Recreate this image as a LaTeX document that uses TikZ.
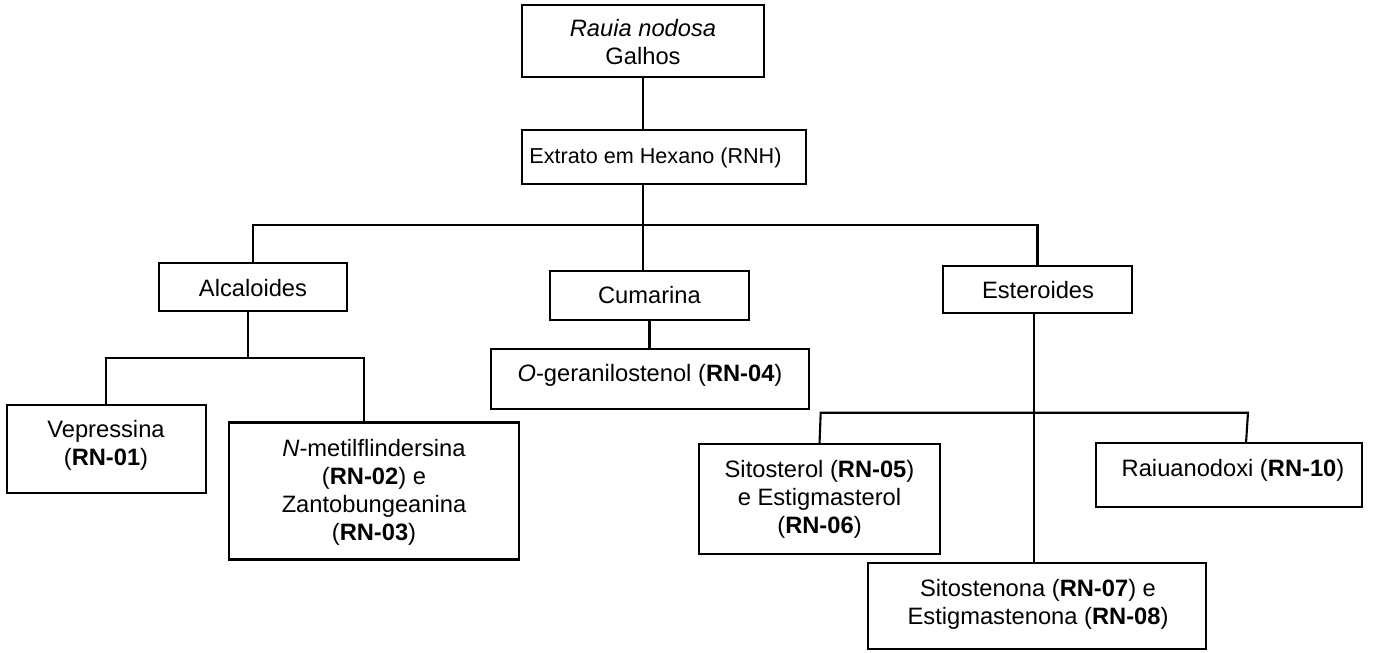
\documentclass[tikz,border=0pt]{standalone}
\usepackage{fontspec}
\setmainfont{Liberation Sans}
\usetikzlibrary{calc}
% centred stack of lines, baseline on the first line
\newcommand\mlines[1]{\begin{tabular}[t]{@{}c@{}}#1\end{tabular}}
\begin{document}
\begin{tikzpicture}[x=1pt,y=-1pt,
  box/.style={draw, rectangle, line width=2.1pt, inner sep=0pt, outer sep=0pt},
  txt/.style={inner sep=0pt, anchor=base, font=\fontsize{23.7}{28}\selectfont},
  link/.style={line width=2.1pt}]
\useasboundingbox (0,0) rectangle (1379,653);

% boxes
\node[box, minimum width=242, minimum height=72]  (top) at (643,41) {};
\node[box, minimum width=284, minimum height=54]  (ext) at (664,157) {};
\node[box, minimum width=188, minimum height=48]  (alc) at (253,287) {};
\node[box, minimum width=199, minimum height=49]  (cum) at (649.5,295.5) {};
\node[box, minimum width=189, minimum height=47]  (est) at (1037.5,289.5) {};
\node[box, minimum width=199, minimum height=88]  (vep) at (106.3,449) {};
\node[box, minimum width=290, minimum height=137] (nme) at (374,491) {};
\node[box, minimum width=318, minimum height=60]  (oge) at (650,379.3) {};
\node[box, minimum width=241, minimum height=110] (sit) at (819.5,499) {};
\node[box, minimum width=338, minimum height=86]  (sno) at (1037,606) {};
\node[box, minimum width=266, minimum height=63.4] (rau) at (1229,475) {};

% texts
\node[txt] (top-t) at (643,36) {\mlines{\textit{Rauia nodosa}\\Galhos}};
\node[txt, font=\fontsize{21.6}{26}\selectfont] (ext-t) at (655.5,163) {Extrato em Hexano (RNH)};
\node[txt] (alc-t) at (253,296) {Alcaloides};
\node[txt] (cum-t) at (649.5,303) {Cumarina};
\node[txt] (est-t) at (1038,298) {Esteroides};
\node[txt] (vep-t) at (106,437) {\mlines{Vepressina\\(\textbf{RN-01})}};
\node[txt] (nme-t) at (374,456) {\mlines{\textit{N}-metilflindersina\\(\textbf{RN-02}) e\\Zantobungeanina\\(\textbf{RN-03})}};
\node[txt] (oge-t) at (650,381) {\textit{O}-geranilostenol (\textbf{RN-04})};
\node[txt] (sit-t) at (819.5,477.3) {\mlines{Sitosterol (\textbf{RN-05})\\e Estigmasterol\\(\textbf{RN-06})}};
\node[txt] (sno-t) at (1038,596) {\mlines{Sitostenona (\textbf{RN-07}) e\\Estigmastenona (\textbf{RN-08})}};
\node[txt] (rau-t) at (1233,476.7) {Raiuanodoxi (\textbf{RN-10})};

% junction points
\coordinate (bus)   at (643,225);
\coordinate (abus)  at (248,358);
\coordinate (njoin) at (364.3,358);
\coordinate (sbus)  at (1034,412.7);
\coordinate (sl)    at (820.7,412.7);
\coordinate (sr)    at (1248,412.7);
\coordinate (rauin) at (1246,443.3);

% connectors
\draw[link] (top.south) -- (top.south |- ext.north);
\draw[link] (ext.south -| top.south) -- (bus);
\draw[link] (alc.north) |- (bus) -| (est.north);
\draw[link] (bus) -- (bus |- cum.north);
\draw[link] (abus |- alc.south) -- (abus);
\draw[link] (vep.north) |- (njoin) -- (njoin |- nme.north);
\draw[link] (cum.south) -- (cum.south |- oge.north);
\draw[link] (sbus |- est.south) -- (sbus |- sno.north);
\draw[link] (sit.north) -- (sl) -- (sr) -- (rauin);
\end{tikzpicture}
\end{document}
